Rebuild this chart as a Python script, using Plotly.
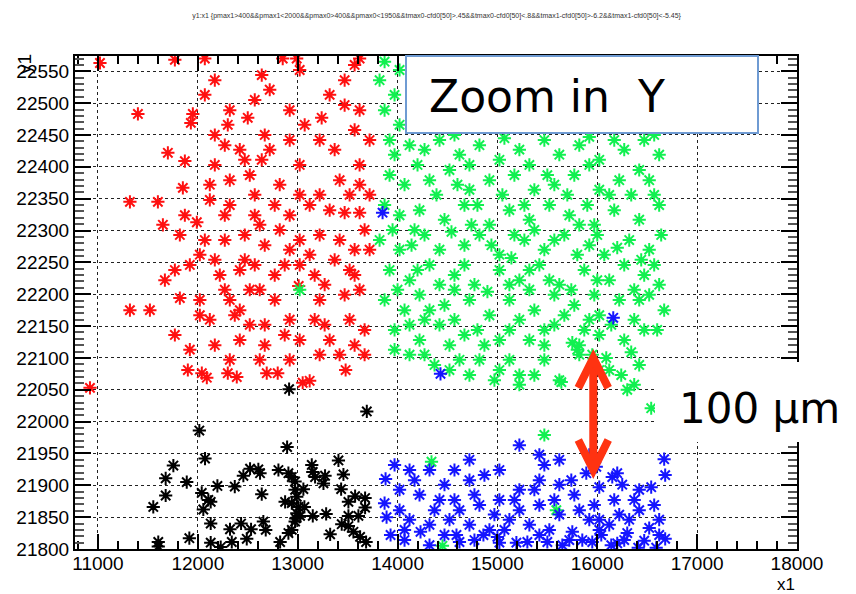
import plotly.graph_objects as go

# ---- data: (x1, y1) for the four selections ----
red_x = [11020, 11770, 12070, 12850, 12990, 13620, 12170, 12070, 12640, 13020,
         13470, 13570, 11400, 11950, 11930, 12300, 12570, 12720, 12920, 13320,
         13470, 11700, 11870, 11850, 11600, 11650, 11990, 12170, 12270, 12420,
         12640, 12670, 12920, 13220, 13370, 13020, 12820, 12520, 12320, 12120,
         11320, 12120, 12270, 12570, 12770, 13020, 13120, 13320, 13470, 13620,
         13720, 12070, 12270, 12470, 12670, 12920, 13020, 13220, 13420, 13570,
         13720, 11770, 11920, 12170, 12420, 12570, 12770, 13020, 13170, 13370,
         13520, 11670, 11820, 12020, 12320, 12420, 12620, 12770, 13010, 13220,
         13470, 13620, 11320, 11520, 12020, 12120, 12370, 12670, 12920, 13170,
         13520, 12170, 12420, 12670, 13020, 13320, 13570, 11770, 12320, 12920,
         13220, 10920, 11900, 12040, 12090, 12300, 12390, 12690, 12800, 13050,
         13120, 13480, 12500, 13240, 13570, 11820, 13620, 13720, 13670, 12820,
         12570, 12320, 12470, 12270, 13420, 13620, 11870, 12020, 12220, 12520,
         12870, 13120, 13270, 13570, 12620, 12920, 13220, 13520, 12170, 12470,
         13070, 13620, 12320, 12720, 12520, 12870, 13270, 13670, 11920, 12620,
         13420, 13670]
red_y = [22563, 22568, 22570, 22570, 22570, 22570, 22536, 22513, 22544, 22552,
         22536, 22560, 22483, 22483, 22469, 22466, 22505, 22521, 22489, 22513,
         22497, 22422, 22409, 22367, 22345, 22309, 22313, 22450, 22434, 22427,
         22411, 22450, 22442, 22442, 22427, 22403, 22372, 22387, 22379, 22372,
         22345, 22348, 22324, 22324, 22340, 22356, 22340, 22332, 22328, 22328,
         22356, 22285, 22285, 22293, 22277, 22270, 22285, 22293, 22285, 22270,
         22270, 22238, 22246, 22254, 22238, 22246, 22230, 22246, 22230, 22254,
         22238, 22222, 22194, 22191, 22191, 22175, 22207, 22191, 22213, 22191,
         22199, 22207, 22175, 22175, 22167, 22160, 22167, 22152, 22160, 22160,
         22160, 22120, 22128, 22120, 22128, 22128, 22120, 22136, 22097, 22097,
         22105, 22053, 22081, 22076, 22069, 22076, 22070, 22076, 22076, 22061,
         22064, 22081, 22477, 22477, 22458, 22293, 22403, 22442, 22301, 22301,
         22356, 22340, 22254, 22207, 22379, 22372, 22324, 22262, 22230, 22207,
         22246, 22262, 22215, 22230, 22309, 22324, 22356, 22356, 22403, 22411,
         22466, 22489, 22489, 22427, 22152, 22136, 22152, 22144, 22113, 22097,
         22105, 22105]

green_x = [15180, 15920, 16340, 13870, 14020, 13820, 13970, 13870, 14020, 13920,
           14120, 14270, 14420, 14620, 14820, 15020, 15220, 15470, 15620, 15820,
           16020, 16270, 16470, 16620, 16570, 13920, 14070, 14320, 14520, 14720,
           14920, 15170, 15370, 15570, 15770, 16020, 16220, 16420, 16570, 13870,
           14020, 14220, 14470, 14670, 14920, 15120, 15320, 15520, 15720, 15970,
           16170, 16420, 16620, 13820, 14020, 14270, 14420, 14670, 14820, 15020,
           15270, 15470, 15670, 15920, 16070, 16320, 16520, 13920, 14120, 14320,
           14570, 14770, 15020, 15220, 15420, 15620, 15870, 16120, 16270, 16470,
           16620, 13870, 14070, 14220, 14470, 14720, 14920, 15120, 15370, 15570,
           15770, 16020, 16220, 16520, 16670, 13970, 14220, 14420, 14670, 14870,
           15120, 15320, 15570, 15820, 16020, 16270, 16470, 14120, 14370, 14620,
           15020, 15220, 15470, 15620, 15820, 15750, 15800, 15950, 16090, 16120,
           16240, 16340, 16420, 16300, 16370, 16540, 15640, 15220, 15470, 14970,
           14450, 14340, 15590, 13020, 14570, 15070, 15920, 16170, 14720, 15320,
           15920, 14170, 15170, 15820, 14570, 15320, 15970, 16420, 14520, 15470,
           14720, 15920, 14270,
           13970, 14200, 14390, 14600, 14800, 15050, 15270, 15500, 15700, 15900,
           16120, 16340, 16520, 13950, 14140, 14540, 14740, 14940, 15140, 15370,
           15570, 15800, 16000, 16200, 16440, 16640, 14000, 14200, 14420, 14670,
           14900, 15120, 15320, 15520, 15740, 16000, 16370, 16570, 14120, 14320,
           14570, 14800, 15020, 15220, 15470, 15670, 15870, 16140, 16370, 16600,
           13970, 14270, 14520, 14820, 15120, 15370, 16020]
green_y = [22573, 22573, 22571, 22565, 22552, 22536, 22513, 22489, 22466, 22442,
           22434, 22427, 22442, 22419, 22434, 22411, 22427, 22442, 22419, 22434,
           22411, 22427, 22442, 22419, 22450, 22387, 22372, 22379, 22395, 22364,
           22379, 22387, 22364, 22372, 22387, 22364, 22379, 22395, 22356, 22340,
           22324, 22332, 22317, 22340, 22309, 22332, 22317, 22340, 22324, 22309,
           22332, 22317, 22340, 22285, 22270, 22293, 22270, 22277, 22293, 22262,
           22285, 22270, 22293, 22277, 22262, 22285, 22270, 22238, 22222, 22246,
           22230, 22215, 22238, 22222, 22246, 22215, 22238, 22222, 22246, 22230,
           22215, 22191, 22175, 22199, 22183, 22191, 22167, 22191, 22175, 22199,
           22183, 22167, 22191, 22199, 22175, 22144, 22128, 22152, 22136, 22120,
           22144, 22128, 22152, 22120, 22136, 22128, 22144, 22105, 22089, 22097,
           22081, 22073, 22097, 22065, 22105, 22124, 22113, 22105, 22100, 22081,
           22073, 22109, 22089, 22050, 22058, 22021, 22062, 22058, 21979, 22065,
           21805, 21937, 21861, 22207, 22450, 22445, 22447, 22442, 22403, 22403,
           22403, 22301, 22293, 22309, 22207, 22207, 22199, 22191, 22120, 22120,
           22073, 22160, 22160,
           22419, 22403, 22356, 22372, 22340, 22356, 22340, 22387, 22356, 22340,
           22356, 22356, 22379, 22301, 22277, 22298, 22309, 22277, 22257, 22301,
           22285, 22262, 22293, 22273, 22254, 22293, 22207, 22238, 22215, 22246,
           22204, 22215, 22238, 22222, 22207, 22222, 22207, 22246, 22152, 22175,
           22160, 22144, 22128, 22160, 22144, 22167, 22144, 22152, 22160, 22144,
           22113, 22105, 22081, 22097, 22097, 22073, 22081]

blue_x = [16670, 16680, 15890, 15990, 16150, 16200, 15740, 16250, 16540, 16020,
          13930, 14230, 14320, 14590, 14620, 14860, 15000, 15020, 15190, 15300,
          15500, 15650, 15750, 15850, 15950, 16040, 16140, 16200, 16300, 16410,
          16470, 16590, 16680, 13880, 13870, 13890, 13970, 14120, 14570, 14720,
          14870, 15020, 15220, 15420, 15620, 16420, 15220, 15470, 15620, 14020,
          14220, 14420, 14620, 14820, 15020, 15220, 15420, 15620, 15820, 16020,
          16220, 16420, 16620, 14120, 14320, 14520, 14720, 14920, 15120, 15320,
          15520, 15920, 16120, 16320, 16520, 14020, 14070, 13850, 14430, 16160,
          14170, 14470, 14370, 14570, 14770, 14970, 15170, 15370, 15570, 15770,
          15970, 16170, 16370, 16570, 14070, 14470, 14770, 15070, 15420, 15720,
          16020, 16270, 16620, 14320, 14720, 15920, 15420]
blue_y = [21941, 21916, 21919, 21929, 21913, 21919, 21908, 21901, 21897, 21897,
          21822, 21827, 21806, 21822, 21811, 21822, 21819, 21810, 21810, 21811,
          21811, 21806, 21827, 21814, 21811, 21822, 21806, 21809, 21825, 21802,
          21813, 21802, 21816, 21910, 21872, 21850, 21932, 21924, 21924, 21908,
          21916, 21924, 21893, 21908, 21901, 21893, 21963, 21932, 21940, 21893,
          21885, 21877, 21861, 21869, 21877, 21861, 21869, 21854, 21861, 21846,
          21854, 21861, 21846, 21846, 21838, 21846, 21838, 21830, 21846, 21838,
          21830, 21846, 21838, 21846, 21833, 21861, 21814, 22328, 22075, 22163,
          21908, 21901, 21861, 21877, 21885, 21854, 21877, 21893, 21877, 21885,
          21869, 21877, 21877, 21869, 21830, 21822, 21814, 21830, 21822, 21814,
          21830, 21814, 21822, 21924, 21940, 21948, 21948]

black_x = [12914, 13692, 12015, 12894, 12072, 11755, 11678, 11678, 11554, 11889,
           11604, 11604, 11915, 12039, 12105, 12055, 12129, 12129, 12129, 12229,
           12196, 12370, 12322, 12340, 12433, 12533, 12490, 12456, 12523, 12606,
           12623, 12640, 12656, 12680, 12807, 12907, 12941, 12974, 12974, 13057,
           12874, 12941, 12991, 13007, 13067, 12991, 12974, 12941, 12907, 12824,
           13141, 13151, 13174, 13274, 13258, 13151, 13285, 13408, 13458, 13435,
           13508, 13575, 13675, 13675, 13608, 13508, 13441, 13508, 13558, 13625,
           13685, 13325, 12981, 13024]
black_y = [22051, 22016, 21986, 21960, 21942, 21931, 21911, 21884, 21866, 21905,
           21811, 21804, 21817, 21888, 21877, 21862, 21874, 21840, 21810, 21803,
           21899, 21898, 21831, 21811, 21840, 21831, 21816, 21915, 21926, 21925,
           21919, 21886, 21843, 21830, 21924, 21919, 21913, 21906, 21893, 21894,
           21874, 21872, 21882, 21866, 21866, 21856, 21843, 21830, 21825, 21811,
           21932, 21921, 21913, 21915, 21903, 21852, 21855, 21939, 21917, 21894,
           21874, 21883, 21880, 21865, 21852, 21852, 21839, 21836, 21827, 21819,
           21811, 21823, 21848, 21852]

x_ticks = list(range(11000, 18001, 1000))
y_ticks = list(range(21800, 22551, 50))
title_text = ("y1:x1 {pmax1>400&&pmax1<2000&&pmax0>400&&pmax0<1950&&tmax0-cfd0[50]>.45"
              "&&tmax0-cfd0[50]<.8&&tmax1-cfd0[50]>-6.2&&tmax1-cfd0[50]<-5.45}")

fig = go.Figure()


def add_cloud(xs, ys, color):
    fig.add_trace(go.Scatter(
        x=xs, y=ys, mode="markers", showlegend=False,
        marker=dict(symbol="asterisk-open", size=11, color=color,
                    line=dict(width=2, color=color)),
    ))


add_cloud(red_x, red_y, "#ff1010")
add_cloud(green_x, green_y, "#11f050")
add_cloud(black_x, black_y, "#000000")
add_cloud(blue_x, blue_y, "#1515ff")

tick_font = dict(family="Liberation Sans, Arial, sans-serif", size=19, color="black")
axis_common = dict(
    showline=True, linecolor="black", linewidth=2, mirror="ticks",
    ticks="inside", tickcolor="black", tickwidth=1.5,
    showgrid=True, gridcolor="#222222", griddash="dot", gridwidth=1,
    zeroline=False, tickfont=tick_font,
)

fig.update_xaxes(range=[10770, 18000], tickvals=x_ticks,
                 ticktext=[str(v) for v in x_ticks], ticklen=15,
                 ticklabelstandoff=-4,
                 minor=dict(ticks="inside", dtick=200, tick0=11000, ticklen=8,
                            tickcolor="black", showgrid=False),
                 **axis_common)
fig.update_yaxes(range=[21800, 22574], tickvals=y_ticks,
                 ticktext=[str(v) for v in y_ticks], ticklen=16,
                 minor=dict(ticks="inside", dtick=10, tick0=21800, ticklen=9,
                            tickcolor="#555555", showgrid=False),
                 **axis_common)

# Double-headed arrow marking the 100 um gap
ax0, ay_top, ay_bot = 15960, 22100, 21924
wing_dx, wing_dy = 150, 47
arrow_color = "#ff3311"
shapes = [
    dict(type="line", x0=ax0, x1=ax0, y0=ay_bot, y1=ay_top,
         line=dict(color=arrow_color, width=8)),
    dict(type="path",
         path=f"M {ax0-wing_dx},{ay_top-wing_dy} L {ax0},{ay_top} L {ax0+wing_dx},{ay_top-wing_dy}",
         line=dict(color=arrow_color, width=8)),
    dict(type="path",
         path=f"M {ax0-wing_dx},{ay_bot+wing_dy} L {ax0},{ay_bot} L {ax0+wing_dx},{ay_bot+wing_dy}",
         line=dict(color=arrow_color, width=8)),
    # "Zoom in Y" box
    dict(type="rect", xref="paper", yref="paper", layer="above",
         x0=(406 - 75) / 722, x1=(758 - 75) / 722,
         y0=(549 - 133) / 493, y1=(549 - 56) / 493,
         fillcolor="white", line=dict(color="#6f9bd3", width=2)),
    # white backing behind the "100 um" label
    dict(type="rect", xref="paper", yref="paper", layer="above",
         x0=(655 - 75) / 722, x1=(856 - 75) / 722,
         y0=(549 - 442) / 493, y1=(549 - 362) / 493,
         fillcolor="white", line=dict(width=0)),
]

annotations = [
    dict(text="Zoom in\u00a0\u00a0Y", xref="paper", yref="paper",
         x=(427 - 75) / 722, y=(549 - 96) / 493, xanchor="left", yanchor="middle",
         showarrow=False, font=dict(family="DejaVu Sans", size=44, color="black")),
    dict(text="100 \u00b5m", xref="paper", yref="paper",
         x=(677 - 75) / 722, y=(549 - 408) / 493, xanchor="left", yanchor="middle",
         showarrow=False, font=dict(family="DejaVu Sans", size=42, color="black")),
    dict(text="x1", xref="paper", yref="paper", x=1.0, y=-(584 - 549) / 493,
         xanchor="right", yanchor="middle", showarrow=False,
         font=dict(family="Liberation Sans, Arial, sans-serif", size=17, color="black")),
    dict(text="y1", xref="paper", yref="paper", x=-(75 - 24) / 722, y=(549 - 64) / 493,
         xanchor="center", yanchor="middle", textangle=-90, showarrow=False,
         font=dict(family="Liberation Sans, Arial, sans-serif", size=19, color="black")),
]

fig.update_layout(
    width=856, height=594,
    margin=dict(l=75, r=59, t=56, b=45),
    paper_bgcolor="white", plot_bgcolor="white",
    title=dict(text=title_text, x=0.51, xanchor="center", y=1 - 16 / 594, yanchor="middle",
               font=dict(family="Liberation Sans, Arial, sans-serif", size=7, color="#333333")),
    shapes=shapes, annotations=annotations,
)

fig.write_html("out.html")
